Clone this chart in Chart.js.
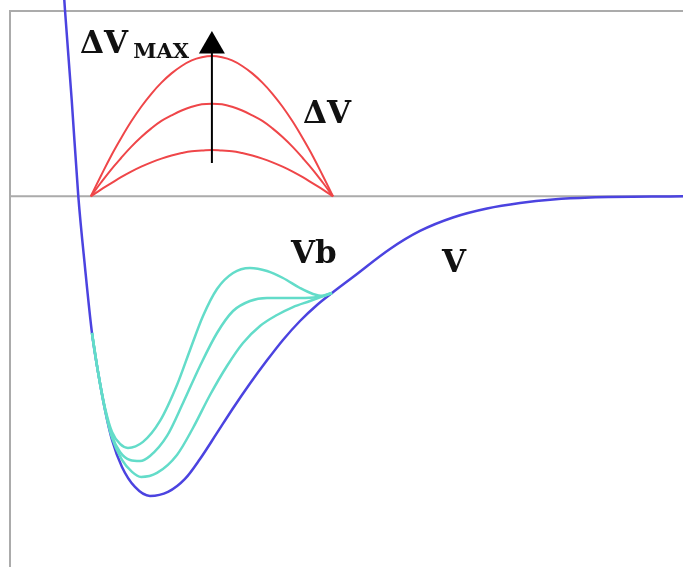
<!DOCTYPE html>
<html>
<head>
<meta charset="utf-8">
<script src="https://cdn.jsdelivr.net/npm/chart.js@4.4.1/dist/chart.umd.min.js"></script>
<style>
  html, body { margin: 0; padding: 0; background: #fff; }
  #wrap { width: 683px; height: 567px; }
</style>
</head>
<body>
<div id="wrap"><canvas id="potChart"></canvas></div>
<script>
// potential V(r)
const vX = [0.807, 0.817, 0.917, 1.015, 1.114, 1.218, 1.308, 1.412, 1.516, 1.664, 1.857, 2.080, 2.348, 2.600, 2.823, 3.076, 3.314, 3.566, 3.819, 4.056, 4.309, 4.562, 4.785, 5.097, 5.646, 6.092, 6.582, 7.088, 7.578, 8.068, 8.618, 10.0];
const vY = [3.178, 3.016, 1.559, 0.000, -1.144, -2.212, -2.843, -3.457, -3.943, -4.380, -4.704, -4.850, -4.785, -4.575, -4.252, -3.830, -3.430, -3.030, -2.655, -2.325, -2.018, -1.759, -1.564, -1.306, -0.852, -0.560, -0.342, -0.197, -0.108, -0.051, -0.019, 0.000];

// barrier bumps ΔV (three amplitudes)
const dvX = [1.2, 1.35, 1.5, 1.65, 1.8, 1.95, 2.1, 2.25, 2.4, 2.55, 2.7, 2.85, 3.0, 3.15, 3.3, 3.45, 3.6, 3.75, 3.9, 4.05, 4.2, 4.35, 4.5, 4.65, 4.8];
const dvBig = [0, 0.33, 0.65, 0.94, 1.21, 1.45, 1.66, 1.84, 1.99, 2.11, 2.20, 2.25, 2.27, 2.25, 2.20, 2.11, 1.99, 1.84, 1.66, 1.45, 1.21, 0.94, 0.65, 0.33, 0];
const dvMid = [0, 0.22, 0.43, 0.62, 0.80, 0.96, 1.10, 1.22, 1.31, 1.39, 1.45, 1.49, 1.50, 1.49, 1.45, 1.39, 1.31, 1.22, 1.10, 0.96, 0.80, 0.62, 0.43, 0.22, 0];
const dvSmall = [0, 0.11, 0.21, 0.31, 0.40, 0.48, 0.55, 0.61, 0.66, 0.70, 0.73, 0.74, 0.75, 0.74, 0.73, 0.70, 0.66, 0.61, 0.55, 0.48, 0.40, 0.31, 0.21, 0.11, 0];

// biased potentials Vb
const vbTopX = [1.218, 1.308, 1.412, 1.516, 1.635, 1.753, 1.976, 2.229, 2.481, 2.675, 2.868, 3.076, 3.314, 3.566, 3.819, 4.056, 4.309, 4.502, 4.651, 4.785];
const vbTopY = [-2.212, -2.843, -3.425, -3.814, -4.008, -4.072, -3.975, -3.636, -3.054, -2.487, -1.937, -1.500, -1.241, -1.160, -1.209, -1.322, -1.484, -1.581, -1.613, -1.564];
const vbMidX = [1.218, 1.308, 1.412, 1.516, 1.635, 1.783, 1.932, 2.080, 2.333, 2.571, 2.823, 3.076, 3.314, 3.566, 3.819, 4.056, 4.309, 4.562, 4.785];
const vbMidY = [-2.212, -2.843, -3.441, -3.878, -4.137, -4.267, -4.284, -4.203, -3.878, -3.345, -2.746, -2.212, -1.856, -1.694, -1.646, -1.646, -1.646, -1.630, -1.564];
const vbLowX = [1.218, 1.308, 1.412, 1.516, 1.664, 1.813, 1.947, 2.184, 2.481, 2.719, 2.972, 3.224, 3.462, 3.715, 3.967, 4.205, 4.458, 4.785];
const vbLowY = [-2.212, -2.843, -3.457, -3.911, -4.267, -4.461, -4.542, -4.477, -4.186, -3.750, -3.216, -2.746, -2.374, -2.099, -1.921, -1.792, -1.695, -1.564];

// arrow for ΔVmax
const arrowX = [3.0, 3.0];
const arrowY = [0.54, 2.40];
const arrowHead = { x: 3.0, y: 2.433 };

const pts = (xs, ys) => xs.map((x, i) => ({ x: x, y: ys[i] }));

const BLUE = '#4b43e0';
const RED = '#ef4649';
const CYAN = '#63dcc9';

function curve(data, color, width, order, smooth) {
    const ds = {
        data: data,
        borderColor: color,
        borderWidth: width,
        pointRadius: 0,
        showLine: true,
        fill: false,
        clip: false,
        order: order
    };
    if (smooth) {
        ds.tension = 0.4;
    } else {
        ds.cubicInterpolationMode = 'monotone';
    }
    return ds;
}

// gray frame and zero line
const framePlugin = {
    id: 'frame',
    beforeDatasetsDraw(chart) {
        const { ctx, chartArea: a, scales } = chart;
        const y0 = scales.y.getPixelForValue(0);
        ctx.save();
        ctx.strokeStyle = '#ababab';
        ctx.lineWidth = 2;
        ctx.beginPath();
        ctx.moveTo(a.right + 2, a.top);
        ctx.lineTo(a.left, a.top);
        ctx.lineTo(a.left, a.bottom);
        ctx.moveTo(a.left, y0);
        ctx.lineTo(a.right + 2, y0);
        ctx.stroke();
        ctx.restore();
    }
};

// text labels
const labels = [
    { text: 'ΔV', x: 1.04, y: 2.32, size: 31 },
    { text: 'MAX', x: 1.83, y: 2.24, size: 21 },
    { text: 'ΔV', x: 4.354, y: 1.187, size: 31 },
    { text: 'Vb', x: 4.175, y: -1.079, size: 31 },
    { text: 'V', x: 6.419, y: -1.224, size: 31 }
];

const labelPlugin = {
    id: 'labels',
    afterDatasetsDraw(chart) {
        const { ctx, scales } = chart;
        ctx.save();
        ctx.fillStyle = '#111';
        ctx.textBaseline = 'alphabetic';
        ctx.textAlign = 'left';
        labels.forEach(l => {
            ctx.font = 'bold ' + l.size + 'px "DejaVu Serif", "Liberation Serif", serif';
            ctx.fillText(l.text, scales.x.getPixelForValue(l.x), scales.y.getPixelForValue(l.y));
        });
        ctx.restore();
    }
};

new Chart(document.getElementById('potChart'), {
    type: 'scatter',
    data: {
        datasets: [
            curve(pts(arrowX, arrowY), '#000', 2, 0, false),
            {
                data: [arrowHead],
                pointStyle: 'triangle',
                pointRadius: 15,
                backgroundColor: '#000',
                borderColor: '#000',
                borderWidth: 0,
                showLine: false,
                clip: false,
                order: 0
            },
            curve(pts(vbTopX, vbTopY), CYAN, 2.5, 1, false),
            curve(pts(vbMidX, vbMidY), CYAN, 2.5, 1, false),
            curve(pts(vbLowX, vbLowY), CYAN, 2.5, 1, false),
            curve(pts(dvX, dvBig), RED, 2, 2, true),
            curve(pts(dvX, dvMid), RED, 2, 2, true),
            curve(pts(dvX, dvSmall), RED, 2, 2, true),
            curve(pts(vX, vY), BLUE, 2.5, 3, false)
        ]
    },
    options: {
        responsive: true,
        maintainAspectRatio: false,
        animation: false,
        layout: { autoPadding: false, padding: { left: 10, top: 11, right: 0, bottom: 0 } },
        plugins: {
            legend: { display: false },
            tooltip: { enabled: false }
        },
        scales: {
            x: { type: 'linear', min: 0, max: 10, display: false },
            y: { type: 'linear', min: -6, max: 3, display: false }
        }
    },
    plugins: [framePlugin, labelPlugin]
});
</script>
</body>
</html>
